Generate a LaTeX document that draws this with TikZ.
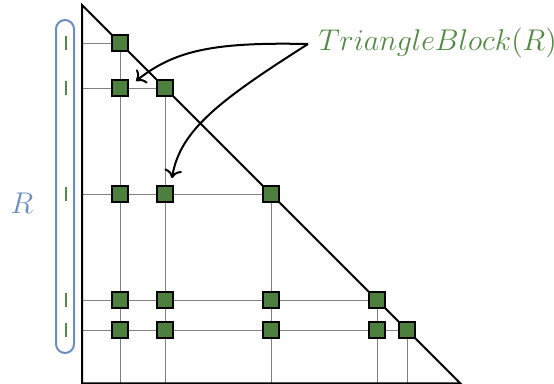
\documentclass[tikz,border=0pt]{standalone}
\usetikzlibrary{arrows.meta}
\definecolor{blkgreen}{RGB}{77,128,62}
\definecolor{txtgreen}{RGB}{84,138,70}
\definecolor{rblue}{RGB}{108,142,191}
\begin{document}
\begin{tikzpicture}[x=0.4pt,y=-0.4pt,
  blk/.style={draw=black,fill=blkgreen,line width=0.7pt,minimum size=6.4pt,inner sep=0pt,outer sep=0pt},
  gridline/.style={draw=gray,line width=0.4pt},
  edge/.style={draw=black,line width=0.8pt},
  tick/.style={draw=txtgreen,line width=0.9pt},
  callout/.style={draw=black,line width=0.8pt,->}]
\useasboundingbox (0,0) rectangle (554,383);
% triangle
\coordinate (apex) at (82,5);
\coordinate (bl) at (82,383.3);
\coordinate (br) at (460.3,383.3);
% grid coordinates
\def\xs{{120,165,271,377,407}}
\foreach \i in {0,...,4}{
  \pgfmathsetmacro{\yy}{\xs[\i]-77}
  \coordinate (L\i) at (82,\yy);
  \coordinate (B\i) at ({\xs[\i]},383.3);
}
% gray grid
\foreach \i in {0,...,4}{
  \pgfmathsetmacro{\yy}{\xs[\i]-77}
  \draw[gridline] (L\i) -- ({\xs[\i]},\yy) -- (B\i);
}
\draw[edge] (apex) -- (bl) -- (br) -- cycle;
% blocks
\foreach \i in {0,...,4}{
  \foreach \j in {0,...,\i}{
    \pgfmathsetmacro{\yy}{\xs[\i]-77}
    \node[blk] (s\i\j) at ({\xs[\j]},\yy) {};
  }
}
% range bracket
\draw[draw=rblue,line width=0.8pt,rounded corners=3.6pt] (56,20) rectangle (74,353);
\foreach \i in {0,...,4}{
  \pgfmathsetmacro{\yy}{\xs[\i]-77}
  \draw[tick] (66,\yy-7) -- (66,\yy+7);
}
\node[text=rblue,font=\large] (Rlab) at (22,203) {$R$};
\node[text=txtgreen,font=\fontsize{11.8}{14}\selectfont,anchor=west,inner sep=0pt] (tb) at (318,43) {$TriangleBlock(R)$};
\coordinate (src) at (308,44);
\coordinate (t1) at (136,81);
\coordinate (t2) at (172,178);
\draw[callout] (src) .. controls (215,42) and (175,50) .. (t1);
\draw[callout] (src) .. controls (220,100) and (180,130) .. (t2);
\end{tikzpicture}
\end{document}
